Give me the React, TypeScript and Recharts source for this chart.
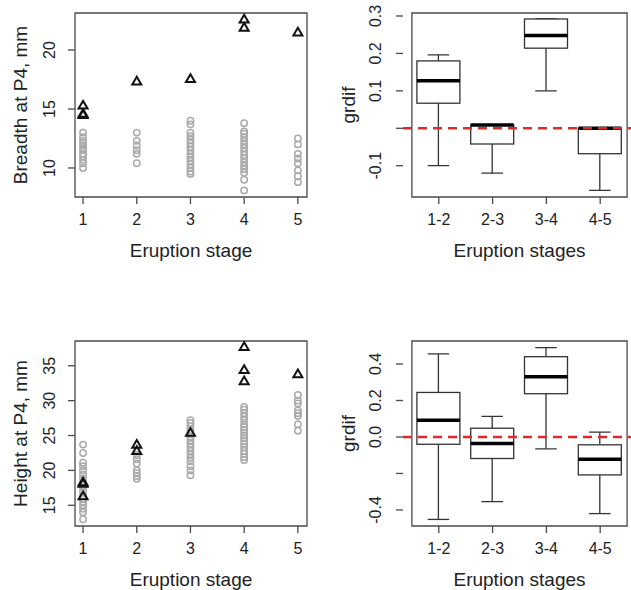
import {
  ScatterChart,
  Scatter,
  ComposedChart,
  Bar,
  XAxis,
  YAxis,
  ReferenceLine,
  ReferenceArea,
  Label,
} from 'recharts'

// stages on the x axis of the scatter panels
const stages = [1, 2, 3, 4, 5]

// breadth at P4 (mm): grey circles and black triangles per stage
const breadthOther = [
  [13.0, 12.6, 12.3, 12.1, 11.9, 11.7, 11.5, 11.2, 11.0, 10.7, 10.4, 10.0],
  [13.0, 12.3, 11.9, 11.5, 11.2, 10.4],
  [14.0, 13.7, 13.0, 12.7, 12.4, 12.1, 11.8, 11.5, 11.2, 10.9, 10.6, 10.3, 10.0, 9.7, 9.5],
  [13.8, 13.1, 12.9, 12.6, 12.3, 12.0, 11.7, 11.4, 11.1, 10.8, 10.5, 10.2, 9.9, 9.6, 9.0, 8.1],
  [12.5, 12.0, 11.2, 10.8, 10.4, 9.8, 9.3, 8.8],
]
const breadthMarked = [[15.3, 14.6, 14.5], [17.35], [17.55], [22.6, 21.9], [21.5]]

// height at P4 (mm)
const heightOther = [
  [23.7, 22.5, 21.1, 20.6, 20.0, 19.4, 18.8, 18.2, 17.6, 17.0, 16.4, 15.9, 15.5, 15.0, 14.5, 14.0, 13.0],
  [22.2, 21.6, 21.0, 20.0, 19.6, 19.2, 18.8],
  [27.2, 26.8, 26.3, 25.8, 25.3, 24.8, 24.3, 23.8, 23.3, 22.8, 22.3, 21.8, 21.3, 20.6, 20.0, 19.3],
  [29.1, 28.7, 28.2, 27.7, 27.2, 26.6, 26.2, 25.8, 25.4, 25.0, 24.6, 24.2, 23.8, 23.3, 22.8, 22.4, 21.9, 21.5],
  [30.8, 30.0, 29.6, 28.6, 28.2, 27.8, 26.6, 25.7],
]
const heightMarked = [[18.3, 18.1, 16.3], [23.7, 22.8], [25.4], [37.7, 34.4, 32.8], [33.8]]

// grdif boxplots between consecutive stages
const stagePairs = ['1-2', '2-3', '3-4', '4-5']
const breadthMin = [-0.1, -0.12, 0.1, -0.166]
const breadthQ1 = [0.067, -0.042, 0.214, -0.068]
const breadthMedian = [0.127, 0.009, 0.248, 0.0]
const breadthQ3 = [0.18, 0.009, 0.292, 0.0]
const breadthMax = [0.196, 0.009, 0.292, 0.0]

const heightMin = [-0.452, -0.354, -0.065, -0.42]
const heightQ1 = [-0.04, -0.118, 0.237, -0.208]
const heightMedian = [0.091, -0.036, 0.33, -0.122]
const heightQ3 = [0.244, 0.048, 0.44, -0.043]
const heightMax = [0.455, 0.113, 0.49, 0.026]

// tick values and the labels that are printed
const breadthTicks = [10, 15, 20]
const heightTicks = [15, 20, 25, 30, 35]
const grdifTopTicks = [-0.1, 0, 0.1, 0.2, 0.3]
const grdifTopLabels = ['-0.1', '', '0.1', '0.2', '0.3']
const grdifBottomTicks = [-0.4, -0.2, 0, 0.2, 0.4]
const grdifBottomLabels = ['-0.4', '', '0.0', '0.2', '0.4']

const FONT = '"Liberation Sans", Arial, Helvetica, sans-serif'
const INK = '#222'
const FRAME = '#4a4a4a'

function toPoints(values: number[][]) {
  return values.flatMap((col, i) => col.map((v) => ({ x: stages[i], y: v })))
}

function toBoxes(min: number[], q1: number[], med: number[], q3: number[], max: number[]) {
  return stagePairs.map((name, i) => ({
    name,
    min: min[i],
    q1: q1[i],
    median: med[i],
    q3: q3[i],
    max: max[i],
    range: [min[i], max[i]],
  }))
}

const OpenCircle = (p: any) => (
  <circle cx={p.cx} cy={p.cy} r={3.2} fill="none" stroke="#aaaaaa" strokeWidth={1.5} />
)

const OpenTriangle = (p: any) => (
  <polygon
    points={`${p.cx},${p.cy - 4.6} ${p.cx + 4.5},${p.cy + 3.1} ${p.cx - 4.5},${p.cy + 3.1}`}
    fill="none"
    stroke="#111"
    strokeWidth={2}
  />
)

function BoxShape(props: any) {
  const { x, y, width, height } = props
  const d = props.payload ?? props
  const top = Math.min(y, y + height)
  const h = Math.abs(height)
  const k = d.max === d.min ? 0 : h / (d.max - d.min)
  const py = (v: number) => top + (d.max - v) * k
  const cx = x + width / 2
  const staple = width / 4
  return (
    <g>
      <line x1={cx} x2={cx} y1={py(d.max)} y2={py(d.q3)} stroke="#333" strokeWidth={1.3} />
      <line x1={cx} x2={cx} y1={py(d.q1)} y2={py(d.min)} stroke="#333" strokeWidth={1.3} />
      <line x1={cx - staple} x2={cx + staple} y1={py(d.max)} y2={py(d.max)} stroke="#333" strokeWidth={1.3} />
      <line x1={cx - staple} x2={cx + staple} y1={py(d.min)} y2={py(d.min)} stroke="#333" strokeWidth={1.3} />
      <rect x={x} y={py(d.q3)} width={width} height={py(d.q1) - py(d.q3)} fill="#fff" stroke="#333" strokeWidth={1.3} />
      <line x1={x} x2={x + width} y1={py(d.median)} y2={py(d.median)} stroke="#000" strokeWidth={3.5} />
    </g>
  )
}

function yTick(labels: Record<string, string> | null, margin: number) {
  return (p: any) => {
    const v = p.payload.value
    const text = labels ? labels[String(v)] : String(v)
    const bx = p.x + 7 - margin
    return (
      <text
        x={bx}
        y={p.y}
        transform={`rotate(-90, ${bx}, ${p.y})`}
        textAnchor="middle"
        fontSize={16}
        fontFamily={FONT}
        fill={INK}
      >
        {text}
      </text>
    )
  }
}

function xTitle(text: string) {
  return (p: any) => {
    const vb = p.viewBox
    return (
      <text x={vb.x + vb.width / 2} y={vb.y + 60} textAnchor="middle" fontSize={19} fontFamily={FONT} fill={INK}>
        {text}
      </text>
    )
  }
}

function yTitle(text: string) {
  return (p: any) => {
    const vb = p.viewBox
    const bx = vb.x + vb.width - 48
    const cy = vb.y + vb.height / 2
    return (
      <text
        x={bx}
        y={cy}
        transform={`rotate(-90, ${bx}, ${cy})`}
        textAnchor="middle"
        fontSize={19}
        fontFamily={FONT}
        fill={INK}
      >
        {text}
      </text>
    )
  }
}

const xTickStyle = { fontSize: 16, fontFamily: FONT, fill: INK }
const tickLineStyle = { stroke: FRAME, strokeWidth: 1.3 }

function ScatterPanel(props: {
  top: number
  height: number
  margin: any
  axisHeight: number
  domain: number[]
  ticks: number[]
  other: number[][]
  marked: number[][]
  title: string
}) {
  return (
    <div style={{ position: 'absolute', left: 0, top: props.top }}>
      <ScatterChart width={320} height={props.height} margin={props.margin}>
        <XAxis
          type="number"
          dataKey="x"
          domain={[0.85, 5.17]}
          ticks={stages}
          allowDataOverflow
          height={props.axisHeight}
          tickSize={7}
          tickMargin={9.5}
          tick={xTickStyle}
          axisLine={false}
          tickLine={tickLineStyle}
        >
          <Label content={xTitle('Eruption stage')} />
        </XAxis>
        <YAxis
          type="number"
          dataKey="y"
          domain={props.domain}
          ticks={props.ticks}
          allowDataOverflow
          width={75}
          tickSize={7}
          tick={yTick(null, 17.5)}
          axisLine={false}
          tickLine={tickLineStyle}
        >
          <Label content={yTitle(props.title)} />
        </YAxis>
        <ReferenceArea
          x1={0.85}
          x2={5.17}
          y1={props.domain[0]}
          y2={props.domain[1]}
          fill="none"
          fillOpacity={0}
          stroke={FRAME}
          strokeWidth={1.3}
          ifOverflow="visible"
        />
        <Scatter data={toPoints(props.other)} shape={OpenCircle} isAnimationActive={false} />
        <Scatter data={toPoints(props.marked)} shape={OpenTriangle} isAnimationActive={false} />
      </ScatterChart>
    </div>
  )
}

function BoxPanel(props: {
  top: number
  height: number
  margin: any
  axisHeight: number
  domain: number[]
  ticks: number[]
  labels: string[]
  data: any[]
}) {
  const labelMap: Record<string, string> = {}
  props.ticks.forEach((t, i) => (labelMap[String(t)] = props.labels[i]))
  return (
    <div style={{ position: 'absolute', left: 320, top: props.top }}>
      <ComposedChart width={320} height={props.height} margin={props.margin} data={props.data}>
        <XAxis
          type="category"
          dataKey="name"
          padding={{ left: 8.9, right: 8.9 }}
          height={props.axisHeight}
          tickSize={7}
          tickMargin={9.5}
          tick={xTickStyle}
          axisLine={false}
          tickLine={tickLineStyle}
        >
          <Label content={xTitle('Eruption stages')} />
        </XAxis>
        <YAxis
          type="number"
          domain={props.domain}
          ticks={props.ticks}
          allowDataOverflow
          width={83}
          tickSize={7}
          tick={yTick(labelMap, 20)}
          axisLine={false}
          tickLine={tickLineStyle}
        >
          <Label content={yTitle('grdif')} />
        </YAxis>
        <ReferenceArea
          y1={props.domain[0]}
          y2={props.domain[1]}
          fill="none"
          fillOpacity={0}
          stroke={FRAME}
          strokeWidth={1.3}
          ifOverflow="visible"
        />
        <Bar dataKey="range" barSize={43} shape={BoxShape} isAnimationActive={false} />
        <ReferenceLine y={0} stroke="#df2a2a" strokeWidth={2.6} strokeDasharray="9 6" />
      </ComposedChart>
    </div>
  )
}

export default function App() {
  return (
    <div
      style={{
        position: 'absolute',
        left: 0,
        top: 0,
        width: 631,
        height: 590,
        overflow: 'hidden',
        background: '#fff',
      }}
    >
      <ScatterPanel
        top={0}
        height={295}
        margin={{ top: 13, right: 13, bottom: 28, left: 0 }}
        axisHeight={70}
        domain={[7.54, 23.14]}
        ticks={breadthTicks}
        other={breadthOther}
        marked={breadthMarked}
        title="Breadth at P4, mm"
      />
      <BoxPanel
        top={0}
        height={295}
        margin={{ top: 13, right: 4, bottom: 28, left: 0 }}
        axisHeight={70}
        domain={[-0.1836, 0.308]}
        ticks={grdifTopTicks}
        labels={grdifTopLabels}
        data={toBoxes(breadthMin, breadthQ1, breadthMedian, breadthQ3, breadthMax)}
      />
      <ScatterPanel
        top={300}
        height={290}
        margin={{ top: 41, right: 13, bottom: 4, left: 0 }}
        axisHeight={60}
        domain={[12.03, 38.55]}
        ticks={heightTicks}
        other={heightOther}
        marked={heightMarked}
        title="Height at P4, mm"
      />
      <BoxPanel
        top={300}
        height={290}
        margin={{ top: 41, right: 4, bottom: 4, left: 0 }}
        axisHeight={60}
        domain={[-0.488, 0.526]}
        ticks={grdifBottomTicks}
        labels={grdifBottomLabels}
        data={toBoxes(heightMin, heightQ1, heightMedian, heightQ3, heightMax)}
      />
    </div>
  )
}
